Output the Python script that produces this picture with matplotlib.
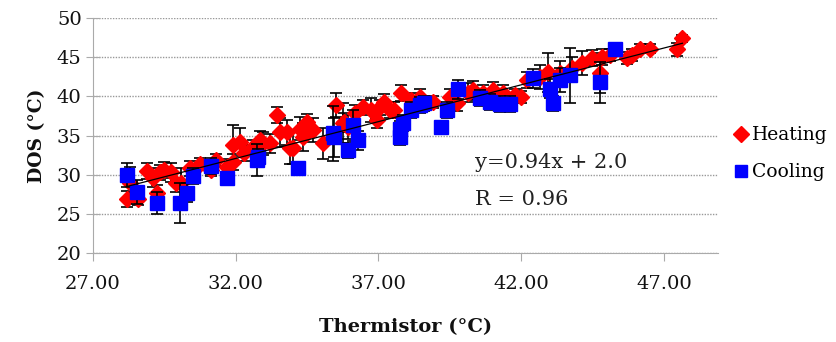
import matplotlib.pyplot as plt
from matplotlib.lines import Line2D
import numpy as np

plt.rcParams['font.family'] = ['DejaVu Serif']

# Heating series (thermistor, DOS, error)
heat_x = [28.2, 28.3, 28.6, 28.9, 29.1, 29.25, 29.35, 29.5, 29.75, 29.9,
          30.1, 30.4, 30.75, 31.15, 31.3, 31.7, 31.9, 31.9, 32.15, 32.3,
          32.6, 32.85, 32.95, 33.2, 33.45, 33.55, 33.8, 33.9, 34.0, 34.25,
          34.35, 34.5, 34.7, 35.05, 35.5, 35.75, 35.8, 35.95, 36.2, 36.45,
          36.75, 36.95, 37.05, 37.2, 37.4, 37.55, 37.8, 38.15, 38.45, 38.9,
          39.5, 39.75, 40.15, 40.3, 40.65, 41.0, 41.35, 41.8, 42.0, 42.2,
          42.65, 42.95, 43.35, 43.8, 44.15, 44.5, 44.75, 44.85, 45.1, 45.7,
          45.9, 46.15, 46.5, 47.45, 47.65]
heat_y = [26.9, 29.0, 26.9, 30.5, 29.6, 27.7, 30.3, 30.6, 30.3, 29.0,
          29.0, 30.8, 31.4, 30.6, 31.9, 31.0, 31.6, 33.8, 34.2, 32.8,
          33.5, 34.4, 34.0, 34.0, 37.6, 35.4, 35.4, 33.4, 33.4, 35.9,
          34.8, 36.7, 35.7, 34.0, 38.9, 36.6, 36.7, 36.1, 37.9, 38.6,
          38.3, 37.0, 38.6, 39.3, 38.3, 38.3, 40.4, 39.5, 39.9, 39.3,
          39.9, 39.1, 40.5, 40.8, 40.4, 40.8, 40.4, 40.2, 39.9, 42.1,
          42.5, 43.1, 43.0, 43.6, 44.3, 44.9, 43.0, 45.0, 45.3, 44.9,
          45.3, 46.1, 46.1, 46.0, 47.4]
heat_err = [1.0, 2.0, 0.8, 1.0, 1.2, 1.0, 1.0, 1.0, 1.2, 1.2,
            1.8, 1.0, 0.8, 0.8, 0.8, 1.0, 1.0, 2.6, 1.8, 1.0,
            1.0, 1.2, 1.5, 1.2, 1.0, 1.8, 1.6, 2.0, 2.0, 1.5,
            1.8, 1.0, 1.5, 2.0, 1.5, 2.5, 1.2, 1.5, 1.0, 1.0,
            1.5, 1.0, 1.0, 1.0, 1.0, 1.0, 1.0, 1.0, 1.0, 0.8,
            1.0, 1.0, 1.2, 1.2, 1.0, 1.0, 1.0, 0.8, 0.8, 1.0,
            1.5, 2.5, 1.5, 1.5, 1.5, 1.0, 2.6, 1.0, 0.8, 0.8,
            0.8, 0.6, 0.6, 0.8, 0.5]

# Cooling series
cool_x = [28.2, 28.55, 29.25, 30.05, 30.3, 30.5, 31.15, 31.7, 32.75, 32.8,
          34.2, 35.4, 35.45, 35.95, 36.1, 36.3, 37.75, 37.75, 37.85, 38.15,
          38.45, 38.6, 39.2, 39.4, 39.8, 40.55, 40.9, 41.25, 41.6, 42.4,
          43.0, 43.1, 43.35, 43.7, 44.75, 45.3]
cool_y = [30.0, 27.8, 26.4, 26.4, 27.7, 29.8, 31.1, 29.6, 31.9, 32.3,
          30.8, 35.3, 34.8, 33.1, 36.3, 34.4, 35.9, 34.8, 36.6, 38.3,
          38.9, 39.1, 36.1, 38.3, 40.9, 39.8, 39.3, 39.0, 39.0, 42.3,
          41.0, 39.1, 42.1, 42.7, 41.8, 46.0]
cool_err = [1.5, 1.5, 1.4, 2.5, 1.2, 1.0, 1.0, 0.6, 2.0, 1.0,
            0.5, 3.5, 2.5, 1.0, 2.0, 1.2, 1.0, 1.0, 1.0, 1.0,
            1.0, 1.0, 0.6, 1.0, 1.2, 1.0, 1.0, 1.0, 1.0, 1.2,
            1.2, 1.0, 1.5, 3.5, 2.6, 0.5]

slope, intercept = 0.94, 2.0

fig = plt.figure(figsize=(8.36, 3.42), dpi=100)
ax = fig.add_axes([0.111, 0.26, 0.748, 0.687])

ax.errorbar(heat_x, heat_y, yerr=heat_err, fmt='D', color='#ff0000', ms=8,
            mec='#ff0000', ecolor='black', elinewidth=1.2, capsize=4,
            capthick=1.2, zorder=3)
ax.errorbar(cool_x, cool_y, yerr=cool_err, fmt='s', color='#0000ff', ms=9.5,
            mec='#0000ff', ecolor='black', elinewidth=1.2, capsize=4,
            capthick=1.2, zorder=4)

tx = np.array([min(heat_x), max(heat_x)])
ax.plot(tx, slope * tx + intercept, color='black', lw=0.9, zorder=5)

ax.set_xlim(27, 48.9)
ax.set_ylim(20, 50)
ax.set_xticks(np.arange(27, 48, 5))
ax.set_xticklabels(['%.2f' % v for v in np.arange(27, 48, 5)])
ax.set_yticks(np.arange(20, 51, 5))
ax.yaxis.grid(True, color='#999999', linestyle=(0, (1, 1)), lw=1)
ax.set_axisbelow(True)

for s in ['top', 'right']:
    ax.spines[s].set_visible(False)
for s in ['left', 'bottom']:
    ax.spines[s].set_color('#aaaaaa')
ax.tick_params(axis='both', colors='#aaaaaa', labelcolor='#111111',
               labelsize=14)
ax.tick_params(axis='y', direction='inout', length=10, pad=3)
ax.tick_params(axis='x', direction='out', length=6, pad=10)

ax.set_xlabel('Thermistor (°C)', fontsize=14, fontweight='bold', labelpad=18,
              color='#111111')
ax.set_ylabel('DOS (°C)', fontsize=13.5, fontweight='bold', labelpad=8,
              color='#111111')

ax.text(0.611, 0.387, 'y=0.94x + 2.0', transform=ax.transAxes, fontsize=15,
        va='center', color='#222222')
ax.text(0.611, 0.226, 'R = 0.96', transform=ax.transAxes, fontsize=15,
        va='center', color='#222222')

handles = [Line2D([], [], ls='none', marker='D', color='#ff0000', ms=8),
           Line2D([], [], ls='none', marker='s', color='#0000ff', ms=9)]
ax.legend(handles, ['Heating', 'Cooling'], loc='center left',
          bbox_to_anchor=(1.0, 0.423), frameon=False, fontsize=13.5,
          handletextpad=0.1, labelspacing=1.0, handlelength=1.0,
          borderpad=0.2)

fig.savefig('out.png', dpi=100)
